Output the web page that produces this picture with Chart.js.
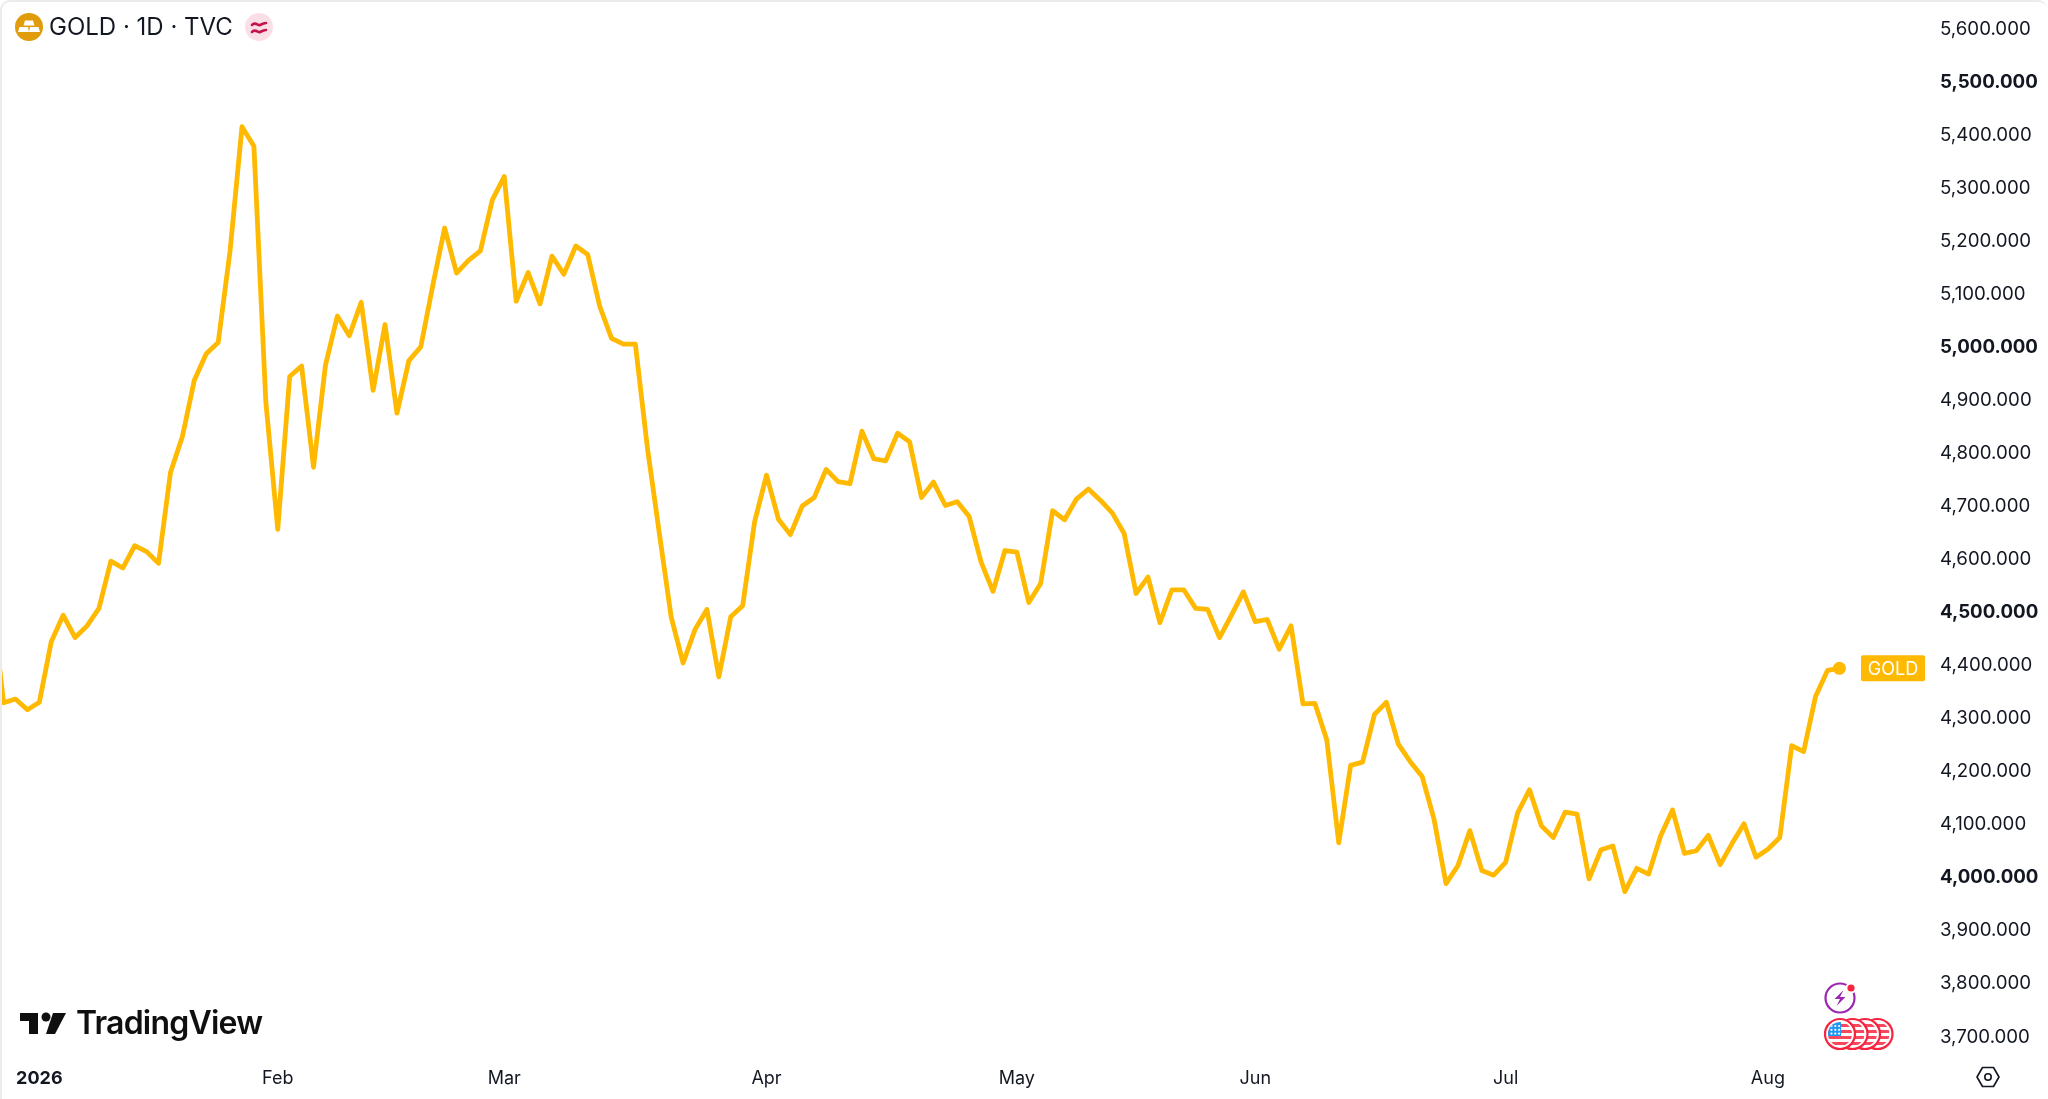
<!DOCTYPE html>
<html>
<head>
<meta charset="utf-8">
<title>GOLD 1D TVC</title>
<script src="https://cdn.jsdelivr.net/npm/chart.js@4"></script>
<style>
    html, body { margin: 0; padding: 0; background: #fff; overflow: hidden; }
    #wrap { position: relative; width: 2048px; height: 1099px; font-family: Inter, "Noto Sans", sans-serif; color: #131722; }
    #wrap canvas { position: absolute; left: 0; top: 0; }
    .frame { position: absolute; left: 0; top: 0; width: 2048px; height: 1099px; box-sizing: border-box; border-left: 2px solid #ebebeb; border-top: 2px solid #ebebeb; border-top-left-radius: 10px; border-top-right-radius: 10px; pointer-events: none; }
    .title { position: absolute; left: 49px; top: 12px; font-size: 24px; line-height: 30px; font-weight: 400; white-space: nowrap; }
    .brand { position: absolute; left: 76px; top: 1003px; font-size: 32px; line-height: 40px; font-weight: 600; letter-spacing: -0.8px; white-space: nowrap; color: #0f0f0f; }
    svg { position: absolute; overflow: visible; }
</style>
</head>
<body>
<div id="wrap">
    <canvas id="goldChart" width="2048" height="1099"></canvas>
    <div class="frame"></div>

    <svg style="left:15px;top:13px" width="28" height="28" viewBox="0 0 28 28">
        <circle cx="14" cy="14" r="14" fill="#e09c0a"/>
        <path d="M10 7.500h8l1.500 5h-11zM4.500 14h8.500l1 5H3zM15 14h8.500l1.500 5H14z" fill="#fff"/>
    </svg>
    <div class="title">GOLD · 1D · TVC</div>
    <svg style="left:245px;top:13px" width="28" height="28" viewBox="0 0 28 28">
        <circle cx="14" cy="14" r="14" fill="#fbdfe7"/>
        <path d="M7 12c3-4 6 1 8 0s4-2 6-2M7 19c3-4 6 1 8 0s4-2 6-2" fill="none" stroke="#c2134f" stroke-width="2.6" stroke-linecap="round"/>
    </svg>

    <svg style="left:20px;top:1012px" width="46" height="24" viewBox="0 0 46 24">
        <path d="M0 1h18v21H9V9H0z" fill="#0f0f0f"/>
        <circle cx="26" cy="5" r="4.500" fill="#0f0f0f"/>
        <path d="M33 1h13L35 22H26z" fill="#0f0f0f"/>
    </svg>
    <div class="brand">TradingView</div>

    <svg style="left:1824px;top:982px" width="32" height="32" viewBox="0 0 32 32">
        <circle cx="16" cy="16" r="14.500" fill="#fff" stroke="#9c27b0" stroke-width="2.200"/>
        <path d="M19.500 8l-9 9h5.500l-3.500 7 9-9h-5.500z" fill="#9c27b0"/>
        <circle cx="27" cy="6" r="5.500" fill="#fff"/>
        <circle cx="27" cy="6" r="3.600" fill="#f7243f"/>
    </svg>
    <svg id="flags" style="left:1820px;top:1015px" width="76" height="38" viewBox="0 0 76 38"></svg>

    <svg style="left:1976px;top:1066px" width="24" height="22" viewBox="0 0 24 22">
        <path d="M6.5 1.5h11L23 11l-5.500 9.500h-11L1 11z" fill="none" stroke="#131722" stroke-width="1.600" stroke-linejoin="round"/>
        <circle cx="12" cy="11" r="3.200" fill="none" stroke="#131722" stroke-width="1.600"/>
    </svg>
</div>

<script>
// daily closes, left to right. first one sits just off the left edge
const closes = [
    4525, 4328, 4335, 4315, 4329, 4443, 4493, 4451, 4473, 4506,
    4595, 4582, 4624, 4613, 4591, 4762, 4830, 4936, 4986, 5007,
    5180, 5414, 5377, 4895, 4655, 4943, 4963, 4772, 4964, 5057,
    5020, 5083, 4917, 5041, 4874, 4973, 4999, 5114, 5223, 5138,
    5162, 5180, 5276, 5320, 5085, 5139, 5080, 5170, 5136, 5189,
    5173, 5076, 5015, 5004, 5004, 4810, 4649, 4490, 4403, 4466,
    4504, 4377, 4490, 4511, 4669, 4757, 4674, 4645, 4699, 4715,
    4768, 4745, 4741, 4840, 4788, 4784, 4836, 4820, 4715, 4744,
    4700, 4707, 4679, 4593, 4538, 4615, 4612, 4517, 4553, 4690,
    4673, 4712, 4731, 4710, 4686, 4647, 4534, 4565, 4479, 4541,
    4541, 4506, 4504, 4451, 4493, 4537, 4481, 4485, 4429, 4473,
    4326, 4327, 4258, 4064, 4210, 4216, 4306, 4329, 4250, 4217,
    4189, 4108, 3987, 4021, 4087, 4012, 4003, 4027, 4120, 4164,
    4096, 4074, 4122, 4118, 3996, 4051, 4058, 3972, 4016, 4005,
    4077, 4126, 4044, 4049, 4078, 4023, 4063, 4100, 4037, 4052,
    4074, 4247, 4236, 4340, 4389, 4393
];

const monthLabels = ['2026', 'Feb', 'Mar', 'Apr', 'May', 'Jun', 'Jul', 'Aug'];
// bar number each month label sits under
const monthBars = [3, 23, 42, 64, 85, 105, 126, 148];
const priceTicks = [5600, 5500, 5400, 5300, 5200, 5100, 5000, 4900, 4800, 4700, 4600, 4500, 4400, 4300, 4200, 4100, 4000, 3900, 3800, 3700];

const GOLD = '#ffb900';
const TEXT = '#131722';

const points = closes.map((v, i) => ({ x: i - 1, y: v }));
const lastIndex = points.length - 1;

// flags next to the event bubble, back to front
let flagSvg = '<defs><clipPath id="disc"><circle cx="0" cy="0" r="12"/></clipPath></defs>';
for (let i = 3; i >= 0; i--) {
    flagSvg += `<g transform="translate(${20 + i * 12.5} 19)">`;
    flagSvg += '<circle r="15" fill="#fff" stroke="#f7243f" stroke-width="2.200"/>';
    flagSvg += '<g clip-path="url(#disc)"><path d="M-12 -8.500h24M-12 -2.500h24M-12 3.500h24M-12 9.500h24" stroke="#f7485e" stroke-width="3.200"/></g>';
    flagSvg += '</g>';
}
flagSvg += '<g transform="translate(20 19)" clip-path="url(#disc)"><rect x="-12" y="-12" width="13" height="14" fill="#2196f3"/>';
for (let r = 0; r < 3; r++) {
    for (let c = 0; c < 3; c++) {
        flagSvg += `<circle cx="${-8.5 + c * 3.8}" cy="${-8 + r * 3.8}" r="1.100" fill="#fff"/>`;
    }
}
flagSvg += '</g>';
document.getElementById('flags').innerHTML = flagSvg;

// the little GOLD tag to the left of the price scale
const lastValueTag = {
    id: 'lastValueTag',
    afterDatasetsDraw(chart) {
        const { ctx, chartArea } = chart;
        const y = chart.scales.y.getPixelForValue(closes[lastIndex]);
        const w = 64, h = 26;
        ctx.save();
        ctx.fillStyle = GOLD;
        ctx.beginPath();
        ctx.roundRect(chartArea.right - 5 - w, y - h / 2, w, h, 2);
        ctx.fill();
        ctx.fillStyle = '#fff';
        ctx.font = '18px Inter, sans-serif';
        ctx.textAlign = 'center';
        ctx.textBaseline = 'middle';
        ctx.fillText('GOLD', chartArea.right - 5 - w / 2, y + 1);
        ctx.restore();
    }
};

// chart.js leaves room for half a label at the ends of each axis, the original doesn't
function noEndPadding(axis) {
    axis.paddingLeft = axis.paddingRight = axis.paddingTop = axis.paddingBottom = 0;
}

new Chart(document.getElementById('goldChart').getContext('2d'), {
    type: 'line',
    data: {
        datasets: [{
            label: 'GOLD',
            data: points,
            borderColor: GOLD,
            backgroundColor: GOLD,
            borderWidth: 4.8,
            borderJoinStyle: 'round',
            borderCapStyle: 'round',
            tension: 0,
            pointRadius: ctx => ctx.dataIndex === lastIndex ? 6.5 : 0,
            pointHoverRadius: 0,
            pointBorderWidth: 0
        }]
    },
    options: {
        responsive: false,
        animation: false,
        devicePixelRatio: 1,
        layout: { padding: 0, autoPadding: false },
        plugins: { legend: { display: false }, tooltip: { enabled: false } },
        scales: {
            x: {
                type: 'linear',
                min: -0.3,
                max: 161.6,
                grid: { display: false, drawTicks: false },
                border: { display: false },
                afterBuildTicks: axis => { axis.ticks = monthBars.map(v => ({ value: v })); },
                afterFit: axis => { axis.height = 39; noEndPadding(axis); },
                ticks: {
                    autoSkip: false,
                    maxRotation: 0,
                    padding: 8,
                    color: TEXT,
                    font: ctx => ({ family: 'Inter, sans-serif', size: 18, weight: ctx.index === 0 ? '700' : '400' }),
                    callback: value => monthLabels[monthBars.indexOf(value)]
                }
            },
            y: {
                position: 'right',
                min: 3654.6,
                max: 5652.8,
                grid: { display: false, drawTicks: false },
                border: { display: false },
                afterBuildTicks: axis => { axis.ticks = priceTicks.map(v => ({ value: v })); },
                afterFit: axis => { axis.width = 118; noEndPadding(axis); },
                ticks: {
                    autoSkip: false,
                    padding: 10,
                    labelOffset: 1,
                    color: TEXT,
                    font: ctx => ({ family: 'Inter, sans-serif', size: 18.7, weight: ctx.tick && ctx.tick.value % 500 === 0 ? '700' : '400' }),
                    callback: value => value.toLocaleString('en-US', { minimumFractionDigits: 3 })
                }
            }
        }
    },
    plugins: [lastValueTag]
});
</script>
</body>
</html>
